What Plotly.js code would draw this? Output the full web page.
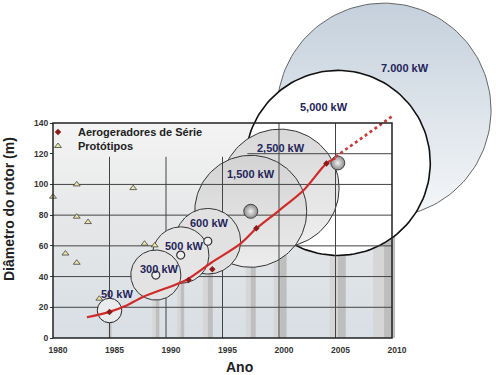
<!DOCTYPE html>
<html><head><meta charset="utf-8">
<script src="https://cdn.plot.ly/plotly-3.0.1.min.js"></script>
<style>html,body{margin:0;padding:0;background:#fff}#chart{width:496px;height:375px}</style>
</head><body><div id="chart"></div>
<script>
// ---------------- data ----------------
const xTickYears = [1980, 1985, 1990, 1995, 2000, 2005, 2010];
const yTickValues = [0, 20, 40, 60, 80, 100, 120, 140];

// Aerogeradores de Série (red diamonds)
const serieYears = [1985.0, 1992.0, 1994.1, 1998.0, 2004.2];
const serieDiam  = [17.0, 37.8, 44.7, 71.4, 113.7];

// Protótipos (triangles)
const protoYears = [1980.0, 1981.1, 1982.1, 1982.1, 1982.1, 1983.1, 1984.1, 1987.1, 1988.1, 1989.0];
const protoDiam  = [92.0, 55.0, 100.0, 79.0, 49.0, 75.5, 25.6, 97.6, 61.4, 60.3];

// trend curve (solid) and projection (dotted)
const trendYears = [1983.0, 1985.0, 1986.4, 1988.0, 1991.8, 1994.0, 1996.6, 1998.0, 2000.0, 2002.2, 2004.2, 2005.0];
const trendDiam  = [13.5, 17.0, 20.8, 26.9, 37.8, 49.0, 61.5, 71.4, 83.0, 96.4, 113.7, 117.0];
const projYears  = [2005.0, 2010.0];
const projDiam   = [118.0, 144.3];

// rotor discs
const ratedPower = ['50 kW', '300 kW', '500 kW', '600 kW', '1,500 kW', '2,500 kW', '5,000 kW', '7.000 kW'];
const rotorYear  = [1985.0, 1989.1, 1991.3, 1993.7, 1997.5, 2000.1, 2005.2, 2009.3];
const hubHeight  = [17.9, 41.0, 54.0, 63.0, 82.5, 97.6, 114.0, 148.4];
const rotorDiam  = [15.9, 32.6, 36.7, 42.7, 72.9, 76.8, 120.5, 139.3];

// ---------------- layout geometry ----------------
const W = 496, H = 375;
const M = {l: 48, r: 0, t: 0, b: 32};
const PX0 = 53, PY0 = 338;              // pixel of (1980, 0)
const pxPerYear = 339 / 30, pxPerM = 215 / 140;
const plotW = W - M.l - M.r, plotH = H - M.t - M.b;
const xRange = [1980 - (PX0 - M.l) / pxPerYear, 1980 + (W - M.r - PX0) / pxPerYear];
const yRange = [-(H - M.b - PY0) / pxPerM, (PY0 - M.t) / pxPerM];
const k = pxPerM / pxPerYear;           // metres -> years for round discs
const FONT = 'Liberation Sans, Arial, sans-serif';

// styles
const discStyle = [
  {fill: '#e9ebec', line: '#222', w: 1},
  {fill: '#e3e3e3', line: '#333', w: 1},
  {fill: '#e5e5e5', line: '#333', w: 1},
  {fill: '#e1e1e1', line: '#333', w: 1},
  {grad: [[0, '#ececec'], [1, '#d3d3d3']], line: '#333', w: 1},
  {grad: [[0, '#efefef'], [1, '#d8d8d8']], line: '#333', w: 1},
  {fill: '#ffffff', line: '#111', w: 1.6},
  {grad: [[0, '#f5f7f9'], [1, '#c4d0dc']], line: '#666', w: 1}
];
const towerWpx = [4, 7, 7, 10, 10, 13, 16, 22];
const hubKind = ['none', 'ring', 'ring', 'ring', 'ball', 'none', 'ball', 'none'];
const labelShift = [[7, 17], [4, 6], [4, 9], [2, 18], [0, 37], [1, 40], [-14, 56], [21, 42]];

function discTrace(i) {
  const xs = [], ys = [], r = rotorDiam[i] / 2;
  for (let j = 0; j <= 144; j++) {
    const t = 2 * Math.PI * j / 144;
    xs.push(rotorYear[i] + r * k * Math.cos(t));
    ys.push(hubHeight[i] + r * Math.sin(t));
  }
  const s = discStyle[i];
  const tr = {type: 'scatter', mode: 'lines', x: xs, y: ys, fill: 'toself',
    line: {color: s.line, width: s.w}, hoverinfo: 'skip', showlegend: false};
  if (s.grad) { tr.fillgradient = {type: 'vertical', colorscale: s.grad}; tr.fillcolor = s.grad[0][1]; }
  else tr.fillcolor = s.fill;
  return tr;
}

// background of the frame
const bgTrace = {type: 'scatter', mode: 'lines', x: [1980, 2010, 2010, 1980, 1980], y: [0, 0, 140, 140, 0],
  fill: 'toself', fillgradient: {type: 'vertical', colorscale: [[0, '#d8dfe5'], [0.55, '#e6e7e8'], [1, '#f4f4f4']]},
  fillcolor: '#eeeeee', line: {width: 0, color: 'rgba(0,0,0,0)'}, hoverinfo: 'skip', showlegend: false};

// towers
function towerTrace(side, color) {
  const xs = [], ys = [];
  rotorYear.forEach((yr, i) => {
    const half = towerWpx[i] / 2 / pxPerYear;
    const a = side === 'L' ? yr - half : yr, b = side === 'L' ? yr : yr + half;
    xs.push(a, b, b, a, a, null); ys.push(0, 0, hubHeight[i], hubHeight[i], 0, null);
  });
  return {type: 'scatter', mode: 'lines', x: xs, y: ys, fill: 'toself', fillcolor: color,
    line: {width: 0, color: 'rgba(0,0,0,0)'}, hoverinfo: 'skip', showlegend: false};
}

// grid lines
const gx = [], gy = [];
[1985, 1990, 1995].forEach(v => { gx.push(v, v, null); gy.push(0, 118, null); });
[2000, 2005].forEach(v => { gx.push(v, v, null); gy.push(0, 140, null); });
[20, 40, 60, 80, 100].forEach(v => { gx.push(1980, 2010, null); gy.push(v, v, null); });
gx.push(1997.2, 2010, null); gy.push(120, 120, null);
const gridTrace = {type: 'scatter', mode: 'lines', x: gx, y: gy, line: {color: '#444', width: 1},
  hoverinfo: 'skip', showlegend: false};

// hubs
const ringIdx = hubKind.map((h, i) => h === 'ring' ? i : -1).filter(i => i >= 0);
const ballIdx = hubKind.map((h, i) => h === 'ball' ? i : -1).filter(i => i >= 0);
const ringTrace = {type: 'scatter', mode: 'markers', x: ringIdx.map(i => rotorYear[i]), y: ringIdx.map(i => hubHeight[i]),
  marker: {symbol: 'circle', size: 8, color: '#efefef', line: {color: '#333', width: 1.2}}, hoverinfo: 'skip', showlegend: false};
const ballTrace = {type: 'scatter', mode: 'markers', x: ballIdx.map(i => rotorYear[i]), y: ballIdx.map(i => hubHeight[i]),
  marker: {symbol: 'circle', size: 14, color: '#8a8a8a', gradient: {type: 'radial', color: '#f2f2f2'}, line: {color: '#444', width: 1}},
  hoverinfo: 'skip', showlegend: false};

const trendTrace = {type: 'scatter', mode: 'lines', x: trendYears, y: trendDiam,
  line: {color: '#cf2b2b', width: 2.2, shape: 'spline', smoothing: 0.8}, hoverinfo: 'skip', showlegend: false};
const projTrace = {type: 'scatter', mode: 'lines', x: projYears, y: projDiam,
  line: {color: '#c83a3a', width: 2.6, dash: 'dot'}, hoverinfo: 'skip', showlegend: false};

const serieTrace = {type: 'scatter', mode: 'markers', name: 'Aerogeradores de Série', x: serieYears, y: serieDiam,
  marker: {symbol: 'diamond', size: 5, color: '#8b1c1c'}, legend: 'legend'};
const protoTrace = {type: 'scatter', mode: 'markers', name: 'Protótipos', x: protoYears, y: protoDiam,
  marker: {symbol: 'triangle-up', size: 6, color: '#ece4a4', line: {color: '#444', width: 0.8}}, legend: 'legend2'};

const traces = [bgTrace, towerTrace('L', '#d6d6d6'), towerTrace('R', '#bebebe')];
[7, 6, 5, 4].forEach(i => traces.push(discTrace(i)));
traces.push(gridTrace);
[3, 2, 1, 0].forEach(i => traces.push(discTrace(i)));
traces.push(ringTrace, ballTrace, trendTrace, projTrace, serieTrace, protoTrace);

const annotations = ratedPower.map((t, i) => ({
  text: '<b>' + t + '</b>', x: rotorYear[i], y: hubHeight[i], xref: 'x', yref: 'y',
  xshift: labelShift[i][0], yshift: labelShift[i][1], showarrow: false,
  font: {family: FONT, size: 11, color: '#25255a'}
}));
annotations.push({text: '<b>Diâmetro do rotor (m)</b>', textangle: -90, xref: 'paper', yref: 'paper',
  x: (9 - M.l) / plotW, y: (H - M.b - 209) / plotH, xanchor: 'center', yanchor: 'middle', showarrow: false,
  font: {family: FONT, size: 14, color: '#222'}});
annotations.push({text: '<b>Ano</b>', xref: 'paper', yref: 'paper',
  x: (239 - M.l) / plotW, y: (H - M.b - 367) / plotH, xanchor: 'center', yanchor: 'middle', showarrow: false,
  font: {family: FONT, size: 14, color: '#222'}});

const legendBase = {xanchor: 'left', yanchor: 'middle', bgcolor: 'rgba(0,0,0,0)', borderwidth: 0,
  font: {family: FONT, size: 11, color: '#222', weight: 'bold'}, x: (38 - M.l) / plotW};

const layout = {
  width: W, height: H, margin: M, paper_bgcolor: '#fff', plot_bgcolor: 'rgba(0,0,0,0)',
  showlegend: true,
  legend: Object.assign({}, legendBase, {y: (H - M.b - 132) / plotH}),
  legend2: Object.assign({}, legendBase, {y: (H - M.b - 146) / plotH}),
  xaxis: {range: xRange, tickvals: xTickYears, ticktext: xTickYears.map(String), showgrid: false, zeroline: false,
    showline: false, ticks: '', anchor: 'free', position: (H - M.b - PY0) / plotH,
    ticklabelstandoff: 5, ticklabelshift: 5,
    tickfont: {family: FONT, size: 8.5, color: '#333', weight: 'bold'}},
  yaxis: {range: yRange, tickvals: yTickValues, showgrid: false, zeroline: false, showline: false,
    ticks: 'outside', ticklen: 3, tickcolor: '#333', anchor: 'free', position: (PX0 - M.l) / plotW,
    tickfont: {family: FONT, size: 8.5, color: '#333', weight: 'bold'}},
  shapes: [{type: 'rect', xref: 'x', yref: 'y', x0: 1980, x1: 2010, y0: 0, y1: 140,
    line: {color: '#222', width: 1.5}, layer: 'above'}],
  annotations: annotations
};

Plotly.newPlot('chart', traces, layout, {displayModeBar: false, staticPlot: true});
</script></body></html>
